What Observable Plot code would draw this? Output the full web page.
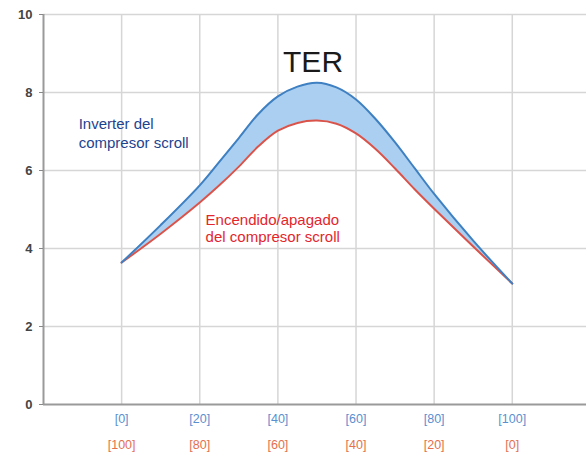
<!DOCTYPE html>
<html>
<head>
<meta charset="utf-8">
<script src="https://cdn.jsdelivr.net/npm/d3@7"></script>
<script src="https://cdn.jsdelivr.net/npm/@observablehq/plot@0.6"></script>
<style>
  html, body { margin: 0; padding: 0; background: #fff; }
  #chart { width: 586px; height: 460px; }
  svg { font-family: "Liberation Sans", Arial, sans-serif; }
</style>
</head>
<body>
<div id="chart"></div>
<script>
// Load percentage positions along the x axis
const loadX = [0, 10, 20, 25, 30, 35, 40, 45, 50, 55, 60, 65, 70, 75, 80, 90, 100];
// TER of the inverter scroll compressor (blue)
const inverterTER = [3.64, 4.6, 5.62, 6.22, 6.83, 7.45, 7.9, 8.15, 8.25, 8.13, 7.82, 7.32, 6.72, 6.06, 5.4, 4.2, 3.1];
// TER of the on/off scroll compressor (red)
const onOffTER = [3.64, 4.38, 5.18, 5.62, 6.1, 6.62, 7.02, 7.22, 7.28, 7.2, 6.95, 6.55, 6.05, 5.52, 5.02, 4.05, 3.1];

const xTicks = [0, 20, 40, 60, 80, 100];
const xTopLabels = ["[0]", "[20]", "[40]", "[60]", "[80]", "[100]"];
const xBottomLabels = ["[100]", "[80]", "[60]", "[40]", "[20]", "[0]"];
const yTicks = [0, 2, 4, 6, 8, 10];

const title = "TER";
const inverterLabel = "Inverter del\ncompresor scroll";
const onOffLabel = "Encendido/apagado\ndel compresor scroll";

const rows = loadX.map((x, i) => ({x, inv: inverterTER[i], onoff: onOffTER[i]}));

const blue = "#3f80c2";
const red = "#d9534a";
const curve = "catmull-rom";

const chart = Plot.plot({
  width: 586,
  height: 460,
  marginLeft: 43,
  marginRight: 0,
  marginTop: 14,
  marginBottom: 56,
  x: {domain: [-20, 119], axis: null},
  y: {domain: [0, 10], axis: null},
  style: {fontFamily: "'Liberation Sans', Arial, sans-serif", background: "#fff"},
  marks: [
    Plot.gridX(xTicks, {stroke: "#d6d6d6", strokeWidth: 1.5, strokeOpacity: 1}),
    Plot.gridY(yTicks.filter(d => d > 0), {stroke: "#d6d6d6", strokeWidth: 1.5, strokeOpacity: 1}),
    Plot.areaY(rows, {x: "x", y1: "onoff", y2: "inv", fill: "#aacff0", curve}),
    Plot.lineY(rows, {x: "x", y: "onoff", stroke: red, strokeWidth: 2, curve}),
    Plot.lineY(rows, {x: "x", y: "inv", stroke: blue, strokeWidth: 2, curve}),
    Plot.ruleX([-20], {stroke: "#9a9a9a", strokeWidth: 2}),
    Plot.ruleY([0], {stroke: "#9a9a9a", strokeWidth: 2}),
    Plot.axisY({ticks: yTicks, tickSize: 4, tickPadding: 7, fontSize: 13, fontWeight: "bold", color: "#444", stroke: "#888", label: null}),
    Plot.axisX({ticks: xTicks, tickSize: 0, tickPadding: 10, fontSize: 12.5, color: "#5a8fd0", tickFormat: (d, i) => xTopLabels[i], label: null}),
    Plot.axisX({ticks: xTicks, tickSize: 0, tickPadding: 36, fontSize: 12.5, color: "#e4704e", tickFormat: (d, i) => xBottomLabels[i], label: null}),
    Plot.text([title], {x: 49, y: 8.6, text: d => d, fontSize: 30, fill: "#1a1a1a", dy: -7, textAnchor: "middle"}),
    Plot.text([inverterLabel], {x: -11, y: 6.97, text: d => d, fontSize: 15, fill: "#1d4390", textAnchor: "start", lineHeight: 1.27}),
    Plot.text([onOffLabel], {x: 21.5, y: 4.52, text: d => d, fontSize: 15, fill: "#e3262d", textAnchor: "start", lineHeight: 1.13})
  ]
});
document.getElementById("chart").appendChild(chart);
</script>
</body>
</html>
